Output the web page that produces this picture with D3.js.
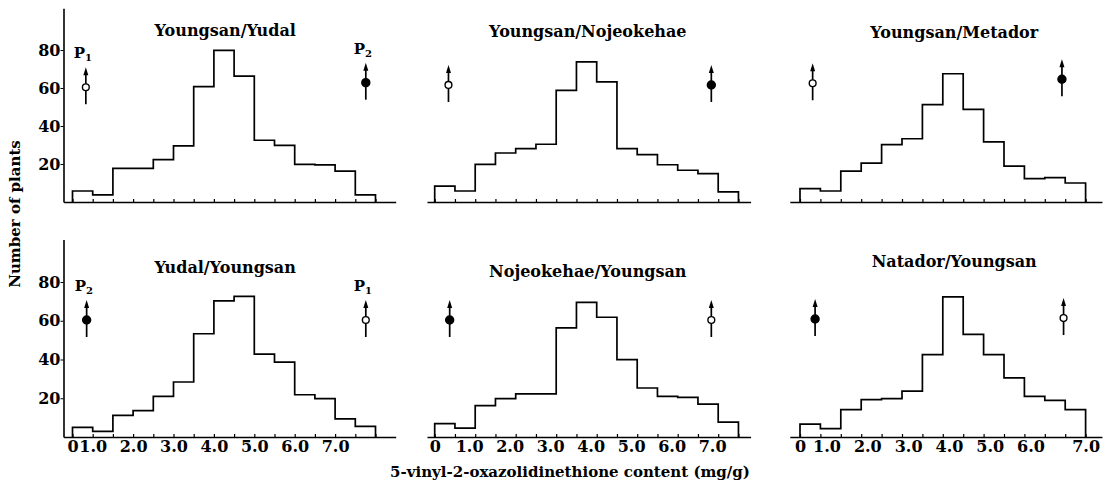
<!DOCTYPE html>
<html>
<head>
<meta charset="utf-8">
<script src="https://cdn.jsdelivr.net/npm/d3@7"></script>
<style>
  body { margin: 0; background: #fff; }
  svg { display: block; }
  text { font-family: "DejaVu Serif", serif; fill: #000; }
</style>
</head>
<body>
<svg id="chart"></svg>
<script>
let width = 1107;
let height = 486;

// bins are 0.5 mg/g wide, starting at 0
let binWidth = 0.5;

let titles = ["Youngsan/Yudal", "Youngsan/Nojeokehae", "Youngsan/Metador",
              "Yudal/Youngsan", "Nojeokehae/Youngsan", "Natador/Youngsan"];

let youngsanYudal      = [5.8, 3.7, 17.7, 17.7, 22.3, 29.5, 60.7, 79.8, 66.3, 32.5, 29.8, 19.8, 19.5, 16.2, 3.7];
let youngsanNojeokehae = [8.4, 5.8, 19.8, 25.8, 28.1, 30.4, 58.8, 73.7, 63.2, 28.1, 24.9, 19.6, 16.7, 14.9, 5.3];
let youngsanMetador    = [7.0, 5.8, 16.2, 20.5, 30.2, 33.3, 51.2, 67.5, 48.8, 31.6, 18.9, 12.3, 12.8, 10.0];
let yudalYoungsan      = [5.0, 2.9, 11.2, 13.6, 21.0, 28.4, 53.3, 70.3, 72.6, 42.8, 38.6, 21.8, 19.8, 9.4, 5.5];
let nojeokehaeYoungsan = [6.9, 4.6, 16.2, 19.8, 22.3, 22.3, 56.3, 69.5, 61.8, 39.9, 25.3, 21.0, 20.5, 17.0, 7.7];
let natadorYoungsan    = [6.6, 4.3, 14.1, 19.3, 19.8, 23.7, 42.5, 72.3, 53.0, 42.5, 30.5, 21.0, 18.9, 14.1];

let panelCounts = [youngsanYudal, youngsanNojeokehae, youngsanMetador,
                   yudalYoungsan, nojeokehaeYoungsan, natadorYoungsan];

// parent means: [content, plants]; Youngsan = open circle, other parent = filled
let youngsanMark = [[0.33, 60.4], [0.34, 61.6], [0.31, 62.5], [7.26, 60.4], [6.83, 60.4], [6.46, 61.4]];
let otherMark    = [[7.26, 62.8], [6.83, 61.6], [6.42, 64.6], [0.35, 60.4], [0.37, 60.4], [0.37, 60.9]];

let yTicks = [20, 40, 60, 80];
let xTickLabels = ["0", "1.0", "2.0", "3.0", "4.0", "5.0", "6.0", "7.0"];
let xTickPos = [
  [0, 0.5, 1.5, 2.5, 3.5, 4.5, 5.5, 6.5],
  [0, 0.85, 1.85, 2.85, 3.85, 4.85, 5.85, 6.85],
  [0, 0.65, 1.65, 2.65, 3.65, 4.65, 5.65, 7.0]
];

// layout
let colX0 = [72.5, 434.7, 800];
let colUnit = [40.4, 40.5, 40.8];
let colExtent = [[-0.22, 8.0], [-0.19, 7.8], [-0.25, 7.4]];
let rowBase = [202, 437];
let rowTop = [50, 282];
let titleY = [36, 37, 38, 273, 277, 267];

let svg = d3.select("#chart").attr("width", width).attr("height", height);
svg.append("rect").attr("width", width).attr("height", height).attr("fill", "#fff");

let line = d3.line();

let drawParent = (g, x, y, d, filled) => {
  let cx = x(d[0]), cy = y(d[1]);
  g.append("line")
   .attr("x1", cx).attr("x2", cx)
   .attr("y1", cy - 14).attr("y2", cy + 17)
   .attr("stroke", "#000").attr("stroke-width", 1.7);
  g.append("path")
   .attr("d", `M${cx},${cy - 20} L${cx - 2.5},${cy - 12} L${cx + 2.5},${cy - 12} Z`)
   .attr("fill", "#000");
  g.append("circle")
   .attr("cx", cx).attr("cy", cy)
   .attr("r", filled ? 4 : 3.4)
   .attr("fill", filled ? "#000" : "#fff")
   .attr("stroke", "#000").attr("stroke-width", 1.4);
};

let drawPLabel = (g, x, y, d, sub) => {
  let t = g.append("text")
   .attr("x", x(d[0]) - 12)
   .attr("y", y(d[1]) - 29)
   .attr("font-size", 15)
   .attr("font-weight", "bold");
  t.append("tspan").text("P");
  t.append("tspan").attr("font-size", 10).attr("dy", 3).text(sub);
};

panelCounts.forEach((counts, i) => {
  let row = Math.floor(i / 3);
  let col = i % 3;
  let g = svg.append("g");

  let x = d3.scaleLinear()
            .domain([0, 1])
            .range([colX0[col], colX0[col] + colUnit[col]]);
  let y = d3.scaleLinear()
            .domain([0, 80])
            .range([rowBase[row], rowTop[row]]);

  // baseline with small inward ticks at every bin edge
  let ext = colExtent[col];
  let axisScale = x.copy().domain(ext).range(ext.map(x));
  let edges = d3.range(0, 7.51, binWidth).filter(v => v <= ext[1]);
  g.append("g")
   .attr("transform", `translate(0,${y(0)})`)
   .call(d3.axisBottom(axisScale).tickValues(edges).tickSize(-3).tickSizeOuter(0).tickFormat(""))
   .call(a => a.select(".domain").attr("stroke-width", 1.6))
   .call(a => a.selectAll(".tick line").attr("stroke-width", 1.2));

  if (row === 1) {
    g.append("g")
     .attr("transform", `translate(0,${y(0)})`)
     .call(d3.axisBottom(axisScale).tickValues(xTickPos[col]).tickSize(0).tickPadding(4)
             .tickFormat((d, k) => xTickLabels[k]))
     .call(a => a.select(".domain").remove())
     .call(a => a.selectAll("text").attr("font-size", 16).attr("font-family", "DejaVu Serif")
                  .attr("font-weight", "bold"));
  }

  if (col === 0) {
    let yAxisScale = y.copy().domain([0, 102]).range([y(0), y(102)]);
    g.append("g")
     .attr("transform", `translate(63.5,0)`)
     .call(d3.axisLeft(yAxisScale).tickValues(yTicks).tickSize(3).tickPadding(0).tickSizeOuter(0))
     .call(a => a.select(".domain").attr("stroke-width", 1.6))
     .call(a => a.selectAll("text").attr("font-size", 16).attr("font-family", "DejaVu Serif")
                  .attr("font-weight", "bold"));
  }

  // histogram outline
  let pts = [[x(0), y(0)]];
  counts.forEach((v, k) => {
    pts.push([x(k * binWidth), y(v)]);
    pts.push([x((k + 1) * binWidth), y(v)]);
  });
  pts.push([x(counts.length * binWidth), y(0)]);
  g.append("path")
   .attr("d", line(pts))
   .attr("fill", "none")
   .attr("stroke", "#000")
   .attr("stroke-width", 1.7);

  g.append("text")
   .attr("x", x(3.78))
   .attr("y", titleY[i])
   .attr("text-anchor", "middle")
   .attr("font-size", 16)
   .attr("font-weight", "bold")
   .text(titles[i]);

  drawParent(g, x, y, youngsanMark[i], false);
  drawParent(g, x, y, otherMark[i], true);

  if (i === 0) {
    drawPLabel(g, x, y, youngsanMark[i], "1");
    drawPLabel(g, x, y, otherMark[i], "2");
  }
  if (i === 3) {
    drawPLabel(g, x, y, otherMark[i], "2");
    drawPLabel(g, x, y, youngsanMark[i], "1");
  }
});

svg.append("text")
   .attr("x", 570)
   .attr("y", 477)
   .attr("text-anchor", "middle")
   .attr("font-size", 15)
   .attr("font-weight", "bold")
   .text("5-vinyl-2-oxazolidinethione content (mg/g)");

svg.append("text")
   .attr("transform", "translate(20,214) rotate(-90)")
   .attr("text-anchor", "middle")
   .attr("font-size", 15)
   .attr("font-weight", "bold")
   .text("Number of plants");
</script>
</body>
</html>
